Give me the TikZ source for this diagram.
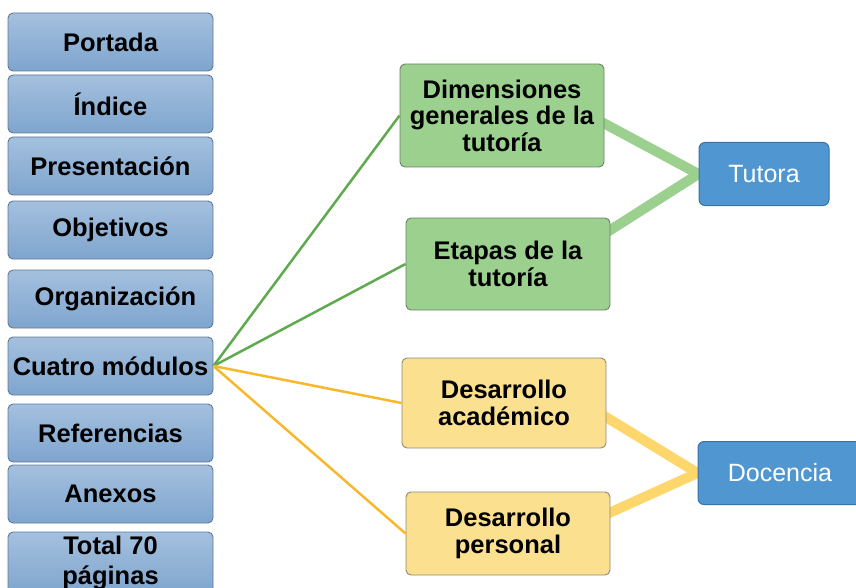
\documentclass[tikz,border=0pt]{standalone}
\usepackage{fontspec}
\setmainfont{Liberation Sans}
\usetikzlibrary{calc,backgrounds}
\definecolor{lbtop}{HTML}{A4C0DE}
\definecolor{lbbot}{HTML}{7FA5CE}
\definecolor{lbdraw}{HTML}{60799A}
\definecolor{gfill}{HTML}{9BD08F}
\definecolor{gdraw}{HTML}{6F7F6C}
\definecolor{gthin}{HTML}{5EAB4F}
\definecolor{yfill}{HTML}{FBE08F}
\definecolor{ydraw}{HTML}{8C877A}
\definecolor{ythin}{HTML}{F7B92B}
\definecolor{ythick}{HTML}{FDD66C}
\definecolor{bfill}{HTML}{5097D1}
\definecolor{bdraw}{HTML}{3B72A6}
\begin{document}
\begin{tikzpicture}[x=1pt,y=-1pt,
  base/.style={rounded corners=5pt, line width=0.9pt, align=center, inner sep=0pt,
    font=\fontsize{25.5}{26.5}\selectfont\bfseries},
  leftbox/.style={base, draw=lbdraw, top color=lbtop, bottom color=lbbot,
    minimum width=205pt, minimum height=58pt},
  greenbox/.style={base, draw=gdraw, fill=gfill, minimum width=204pt},
  yellowbox/.style={base, draw=ydraw, fill=yfill, minimum width=204pt},
  bluebox/.style={rounded corners=6pt, line width=1pt, draw=bdraw, fill=bfill, text=white,
    inner sep=0pt, font=\fontsize{25}{26}\selectfont, minimum height=63pt},
  thinline/.style={line width=2.5pt},
  thickline/.style={line width=10pt}
]
\clip (0,0) rectangle (856,588);

% left column
\node[leftbox] (portada) at (110.5,42) {Portada};
\node[leftbox] (indice) at (110.5,104) {Índice};
\node[leftbox] (present) at (110.5,166) {Presentación};
\node[leftbox] (objet) at (110.5,230) {Objetivos};
\node[leftbox] (organ) at (110.5,299) {\hspace*{10pt}Organización};
\node[leftbox] (cuatro) at (110.5,366) {Cuatro módulos};
\node[leftbox] (refer) at (110.5,433) {Referencias};
\node[leftbox] (anexos) at (110.5,494) {Anexos};
\node[leftbox, minimum height=62pt, font=\fontsize{25.5}{30}\selectfont\bfseries] (total) at (110.5,563) {Total 70\\páginas};

% middle column
\node[greenbox, minimum height=103pt] (dim) at (502,115.5) {Dimensiones\\generales de la\\tutoría};
\node[greenbox, minimum height=92pt] (etapas) at (508,264) {Etapas de la\\tutoría};
\node[yellowbox, minimum height=90pt] (acad) at (504,403) {Desarrollo\\académico};
\node[yellowbox, minimum height=83pt] (pers) at (508,533.5) {Desarrollo\\personal};

% right column
\node[bluebox, minimum width=130pt] (tutora) at (764,174) {Tutora};
\node[bluebox, minimum width=164pt] (docencia) at (780,473) {Docencia};

\begin{pgfonlayer}{background}
\draw[thickline, gfill] ($(dim.east)+(-30,-8)$) -- (tutora.west);
\draw[thickline, gfill] ($(etapas.east)+(-30,-15)$) -- (tutora.west);
\draw[thickline, ythick] ($(acad.east)+(-30,-4)$) -- (docencia.west);
\draw[thickline, ythick] ($(pers.east)+(-30,-7.5)$) -- (docencia.west);
\end{pgfonlayer}

% thin connectors
\draw[thinline, gthin] (cuatro.east) -- (dim.west);
\draw[thinline, gthin] (cuatro.east) -- (etapas.west);
\draw[thinline, ythin] (cuatro.east) -- (acad.west);
\draw[thinline, ythin] (cuatro.east) -- (pers.west);
\end{tikzpicture}
\end{document}
